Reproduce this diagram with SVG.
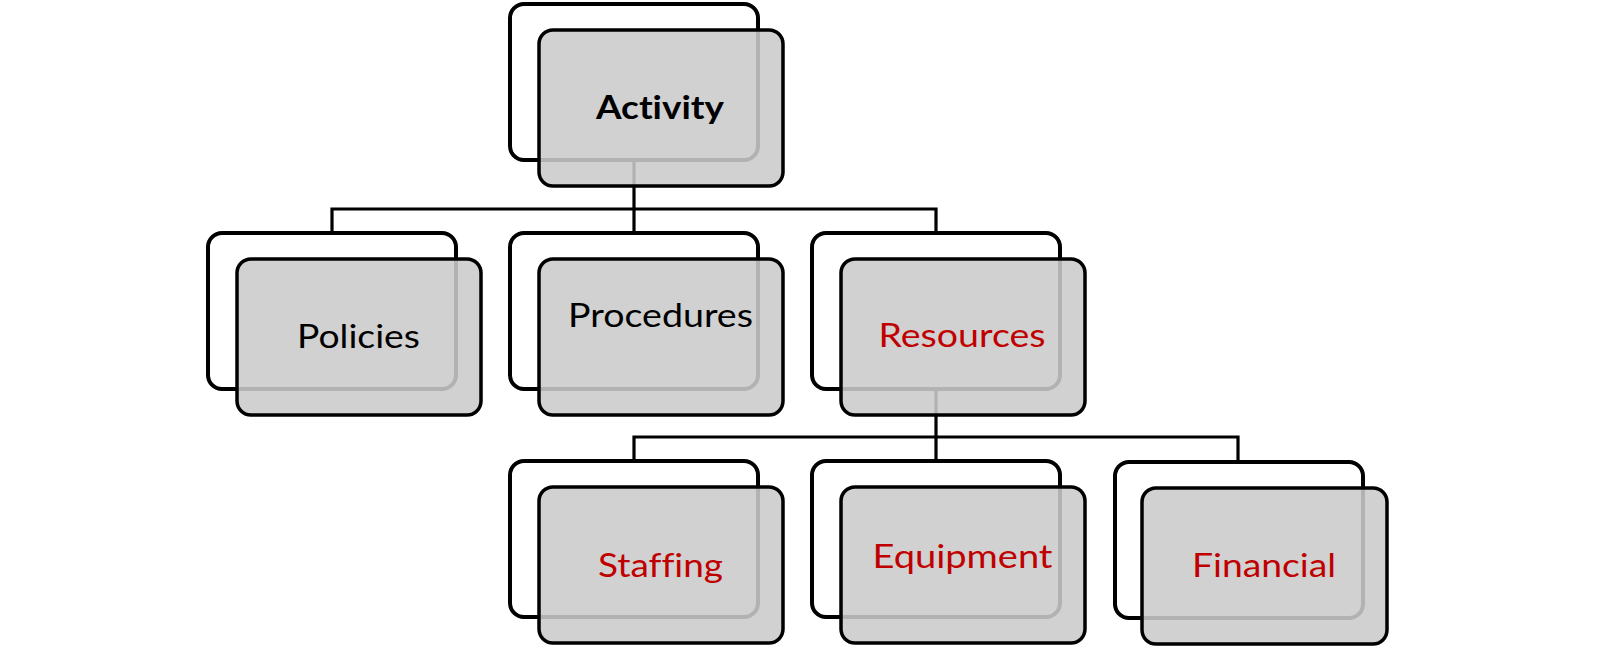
<svg xmlns="http://www.w3.org/2000/svg" width="1600" height="651" viewBox="0 0 1600 651">
  <style>
    .back { fill: #ffffff; stroke: #000000; stroke-width: 4; }
    .front { fill: #cbcbcb; fill-opacity: 0.88; stroke: #000000; stroke-width: 3.5; }
    .conn { fill: none; stroke: #000000; stroke-width: 3.2; }
    .lbl { font-family: Lato, "Open Sans", "Liberation Sans", sans-serif; font-size: 32px; text-anchor: middle; font-variant-ligatures: none; }
    .black { fill: #000000; }
    .red { fill: #c00000; }
    .bold { font-weight: bold; }
  </style>
  <rect width="1600" height="651" fill="#ffffff"/>
  <g id="connectors">
    <path class="conn" d="M634,160 V209"/>
    <path class="conn" d="M332,233 V209 H936 V233"/>
    <path class="conn" d="M634,209 V233"/>
    <path class="conn" d="M936,389 V437"/>
    <path class="conn" d="M634,461 V437 H1238 V461"/>
    <path class="conn" d="M936,437 V461"/>
  </g>
  <g id="activity">
    <rect class="back" x="510" y="4" width="248" height="156" rx="14"/>
    <rect class="front" x="539" y="30" width="244" height="156" rx="14"/>
    <text class="lbl black bold" x="660" y="119" textLength="128" lengthAdjust="spacingAndGlyphs">Activity</text>
  </g>
  <g id="policies">
    <rect class="back" x="208" y="233" width="248" height="156" rx="14"/>
    <rect class="front" x="237" y="259" width="244" height="156" rx="14"/>
    <text class="lbl black" x="358.5" y="348" textLength="123" lengthAdjust="spacingAndGlyphs">Policies</text>
  </g>
  <g id="procedures">
    <rect class="back" x="510" y="233" width="248" height="156" rx="14"/>
    <rect class="front" x="539" y="259" width="244" height="156" rx="14"/>
    <text class="lbl black" x="660.5" y="327" textLength="185" lengthAdjust="spacingAndGlyphs">Procedures</text>
  </g>
  <g id="resources">
    <rect class="back" x="812" y="233" width="248" height="156" rx="14"/>
    <rect class="front" x="841" y="259" width="244" height="156" rx="14"/>
    <text class="lbl red" x="962" y="347" textLength="167" lengthAdjust="spacingAndGlyphs">Resources</text>
  </g>
  <g id="staffing">
    <rect class="back" x="510" y="461" width="248" height="156" rx="14"/>
    <rect class="front" x="539" y="487" width="244" height="156" rx="14"/>
    <text class="lbl red" x="660.5" y="577" textLength="125" lengthAdjust="spacingAndGlyphs">Staffing</text>
  </g>
  <g id="equipment">
    <rect class="back" x="812" y="461" width="248" height="156" rx="14"/>
    <rect class="front" x="841" y="487" width="244" height="156" rx="14"/>
    <text class="lbl red" x="962.5" y="568" textLength="180" lengthAdjust="spacingAndGlyphs">Equipment</text>
  </g>
  <g id="financial">
    <rect class="back" x="1115" y="462" width="248" height="156" rx="14"/>
    <rect class="front" x="1142" y="488" width="245" height="156" rx="14"/>
    <text class="lbl red" x="1264" y="577" textLength="144" lengthAdjust="spacingAndGlyphs">Financial</text>
  </g>
</svg>
